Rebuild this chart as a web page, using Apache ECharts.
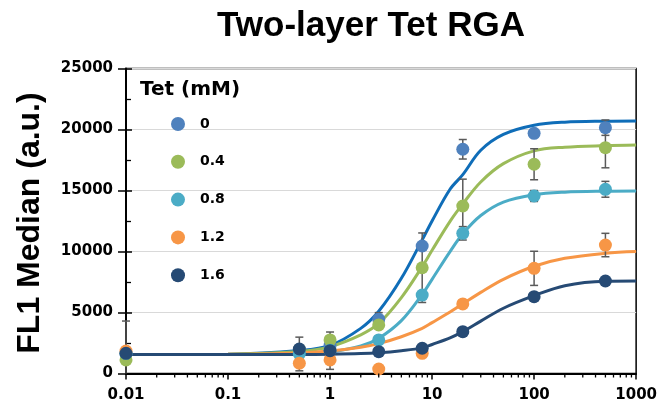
<!DOCTYPE html>
<html>
<head>
<meta charset="utf-8">
<script src="https://cdn.jsdelivr.net/npm/echarts@6/dist/echarts.min.js"></script>
<style>
  html, body { margin: 0; padding: 0; background: #fff; }
  #chart { width: 660px; height: 414px; }
</style>
</head>
<body>
<div id="chart"></div>
<script>
// Tet concentrations (legend) and the inducer concentrations measured
const tetLevels = ['0', '0.4', '0.8', '1.2', '1.6'];
const conc = [0.01, 0.5, 1, 3, 8, 20, 100, 500];

// FL1 median per Tet level
const tet0  = [1600, 1900, 2300, 4440, 10450, 18380, 19690, 20150];
const tet04 = [1110, 1950, 2750, 3980, 8670, 13730, 17150, 18510];
const tet08 = [1650, 1600, 1900, 2750, 6430, 11490, 14550, 15100];
const tet12 = [1840, 840, 1110, 370, 1650, 5700, 8620, 10530];
const tet16 = [1655, 2010, 1870, 1790, 2070, 3430, 6300, 7580];

// error bar half-widths (0 = no bar)
const err0  = [2700, 0, 0, 550, 0, 800, 0, 630];
const err04 = [0, 0, 0, 0, 2850, 2200, 1270, 1650];
const err08 = [0, 1380, 0, 0, 0, 550, 450, 650];
const err12 = [0, 0, 0, 0, 0, 0, 1400, 960];
const err16 = [0, 0, 1530, 0, 0, 0, 0, 0];

// fitted dose-response curves
const fitX   = [0.01, 0.1, 0.5, 1, 2, 3, 5, 8, 10, 15, 20, 30, 50, 100, 200, 500, 1000];
const fit0   = [1550, 1580, 1880, 2300, 3700, 5100, 7800, 10950, 12500, 15100, 16300, 18300, 19600, 20350, 20600, 20680, 20700];
const fit04  = [1550, 1580, 1800, 2200, 3170, 4100, 6220, 8760, 10100, 12470, 13900, 15700, 17200, 18250, 18550, 18680, 18730];
const fit08  = [1550, 1550, 1620, 1770, 2250, 2880, 4330, 6480, 7720, 9990, 11450, 12950, 14050, 14650, 14860, 14940, 14960];
const fit12  = [1550, 1570, 1690, 1840, 2150, 2450, 3010, 3700, 4170, 5040, 5710, 6650, 7720, 8790, 9440, 9850, 9990];
const fit16  = [1550, 1550, 1560, 1580, 1630, 1700, 1870, 2100, 2380, 2920, 3430, 4290, 5350, 6380, 7200, 7560, 7580];

// axis ticks
const xTicks = ['0.01', '0.1', '1', '10', '100', '1000'];
const yTicks = ['0', '5000', '10000', '15000', '20000', '25000'];
const minorSteps = [2, 3, 4, 5, 6, 7, 8, 9];
const decades = [0.01, 0.1, 1, 10, 100];

const markerColors = ['#4F81BD', '#9BBB59', '#4BACC6', '#F79646', '#264A74'];
const curveColors  = ['#0F6DB8', '#9BBB59', '#4BACC6', '#F79646', '#264A74'];

const values = [tet0, tet04, tet08, tet12, tet16];
const errors = [err0, err04, err08, err12, err16];
const fits = [fit0, fit04, fit08, fit12, fit16];

const minorTickValues = [];
decades.forEach(d => minorSteps.forEach(s => minorTickValues.push([d * s])));

const font = 'DejaVu Sans';
const series = [];

// fitted curves
fits.forEach((f, i) => {
  series.push({
    type: 'line', name: 'fit ' + tetLevels[i],
    data: fitX.map((x, k) => [x, f[k]]),
    smooth: 0.35, showSymbol: false, symbol: 'none',
    lineStyle: { color: curveColors[i], width: 3 },
    z: 2, silent: true
  });
});

// error bars
values.forEach((v, i) => {
  series.push({
    type: 'custom', name: 'err ' + tetLevels[i],
    data: conc.map((x, k) => [x, v[k], errors[i][k]]),
    z: 3, silent: true, clip: false,
    renderItem: (params, api) => {
      const x = api.value(0), y = api.value(1), e = api.value(2);
      if (!e) return null;
      const hi = api.coord([x, y + e]);
      const lowVal = y - e;
      const lo = api.coord([x, Math.max(lowVal, 0)]);
      const cap = 4;
      const st = { stroke: '#5A5A5A', lineWidth: 1.5 };
      const children = [
        { type: 'line', shape: { x1: hi[0], y1: hi[1], x2: lo[0], y2: lo[1] }, style: st },
        { type: 'line', shape: { x1: hi[0] - cap, y1: hi[1], x2: hi[0] + cap, y2: hi[1] }, style: st }
      ];
      if (lowVal >= 0) {
        children.push({ type: 'line', shape: { x1: lo[0] - cap, y1: lo[1], x2: lo[0] + cap, y2: lo[1] }, style: st });
      }
      return { type: 'group', children };
    }
  });
});

// measured points
values.forEach((v, i) => {
  series.push({
    type: 'scatter', name: tetLevels[i],
    data: conc.map((x, k) => [x, v[k]]),
    symbol: 'circle', symbolSize: 13,
    itemStyle: { color: markerColors[i], opacity: 1 },
    z: 4
  });
});

// log-axis minor ticks
series.push({
  type: 'custom', name: 'minor',
  data: minorTickValues,
  silent: true, clip: false, z: 5,
  renderItem: (params, api) => {
    const p = api.coord([api.value(0), 0]);
    return { type: 'line', shape: { x1: p[0], y1: p[1], x2: p[0], y2: p[1] + 4 },
             style: { stroke: '#000', lineWidth: 1.3 } };
  }
});

const chart = echarts.init(document.getElementById('chart'), null, { renderer: 'canvas' });
chart.setOption({
  animation: false,
  backgroundColor: '#fff',
  title: {
    text: 'Two-layer Tet RGA', left: 212, top: 4,
    textStyle: { fontFamily: 'Liberation Sans', fontWeight: 'bold', fontSize: 35, color: '#000' }
  },
  grid: { left: 126, right: 22, top: 68.5, bottom: 40.5, show: true, borderColor: '#000', borderWidth: 1.5 },
  legend: {
    data: tetLevels, orient: 'vertical', left: 166, top: 112,
    icon: 'circle', itemWidth: 14, itemHeight: 14, itemGap: 23.8,
    textStyle: { fontFamily: font, fontWeight: 'bold', fontSize: 14, color: '#000', lineHeight: 14, padding: [0, 0, 0, 10] },
    selectedMode: false
  },
  graphic: [
    { type: 'text', left: 140, top: 80,
      style: { text: 'Tet (mM)', font: 'bold 20px "DejaVu Sans"', fill: '#000' } },
    { type: 'text', x: 30, y: 223, rotation: Math.PI / 2,
      style: { text: 'FL1 Median (a.u.)', font: 'bold 32px "Liberation Sans"', fill: '#000', align: 'center', verticalAlign: 'middle' } }
  ],
  xAxis: {
    type: 'log', logBase: 10, min: 0.01, max: 1000,
    axisLine: { lineStyle: { color: '#000', width: 2 } },
    axisTick: { show: true, length: 6, lineStyle: { color: '#000', width: 1.5 } },
    splitLine: { show: false },
    axisLabel: {
      margin: 14, color: '#000', fontFamily: font, fontWeight: 'bold', fontSize: 15,
      formatter: v => { const s = xTicks.find(t => Math.abs(parseFloat(t) - v) < v * 1e-6); return s || ''; }
    }
  },
  yAxis: [
    {
      type: 'value', min: 0, max: 25000, interval: 5000,
      axisLine: { show: true, lineStyle: { color: '#000', width: 2 } },
      axisTick: { show: true, length: 8, lineStyle: { color: '#000', width: 1.5 } },
      splitLine: { show: true, lineStyle: { color: '#D9D9D9', width: 1 } },
      axisLabel: { margin: 13, color: '#000', fontFamily: font, fontWeight: 'bold', fontSize: 15,
                   formatter: v => yTicks[Math.round(v / 5000)] }
    },
    {
      type: 'value', min: 0, max: 25000, interval: 5000, position: 'left',
      axisLine: { show: false },
      axisTick: { show: true, inside: true, length: 6, lineStyle: { color: '#000', width: 1.5 } },
      minorTick: { show: true, splitNumber: 2, length: 5, lineStyle: { color: '#000', width: 1.3 } },
      splitLine: { show: false }, axisLabel: { show: false }
    }
  ],
  series
});
</script>
</body>
</html>
